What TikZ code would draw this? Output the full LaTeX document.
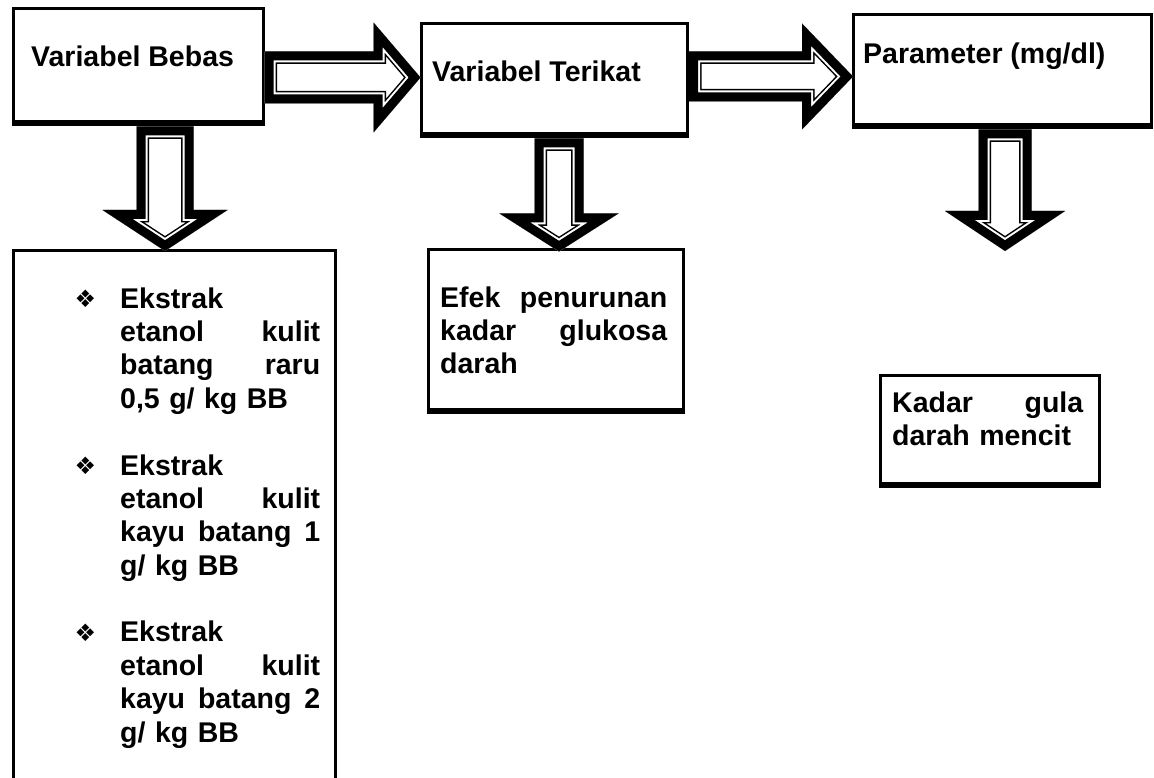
\documentclass[tikz,border=0pt]{standalone}
\usepackage{fontspec}
\setmainfont{Liberation Sans}
\newfontfamily\dingfont{DejaVu Sans}
\usetikzlibrary{positioning, calc}

% outline of a block arrow: length, shaft width, head width, head length
\newcommand{\arrowoutline}[4]{(0,#2/2) -- (#1-#4,#2/2) -- (#1-#4,#3/2) -- (#1,0) -- (#1-#4,-#3/2) -- (#1-#4,-#2/2) -- (0,-#2/2) -- cycle}
\newcommand{\itembullet}{\leavevmode\llap{\raisebox{0.5pt}{\dingfont\fontsize{24pt}{24pt}\selectfont ❖}\hspace{24pt}}}

\tikzset{
  pics/hollowarrow/.style n args={4}{code={
    \begin{scope}[line join=miter]
      \clip \arrowoutline{#1}{#2}{#3}{#4};
      \draw[line width=25pt] \arrowoutline{#1}{#2}{#3}{#4};
      \draw[white, line width=22pt] \arrowoutline{#1}{#2}{#3}{#4};
      \draw[line width=18pt] \arrowoutline{#1}{#2}{#3}{#4};
    \end{scope}
  }}
}

\begin{document}
\begin{tikzpicture}[
        x=1pt, y=1pt,
        box/.style={draw, line width=3pt, fill=white, inner sep=0pt, anchor=north west,
          path picture={\draw[line width=9pt] (path picture bounding box.south west) -- (path picture bounding box.south east);}},
        boxtext/.style={inner sep=0pt, anchor=base west, align=left, font=\fontsize{28.5pt}{33.4pt}\selectfont\bfseries}
    ]
        \useasboundingbox (0,0) rectangle (1154,-778);
        \clip (0,0) rectangle (1154,-778);

        % top row
        \node[box, minimum width=250pt, minimum height=116pt] (bebas) at (11.5,-7.5) {};
        \node[box, minimum width=266.5pt, minimum height=113pt] (terikat) at (419.5,-22.5) {};
        \node[box, minimum width=298pt, minimum height=113pt] (param) at (851.5,-13.5) {};
        \node[boxtext] (bebastext) at ([xshift=19.5pt, yshift=-59.5pt]bebas.north west) {Variabel Bebas};
        \node[boxtext] (terikattext) at ([xshift=12.5pt, yshift=-59.5pt]terikat.north west) {Variabel Terikat};
        \node[boxtext] (paramtext) at ([xshift=11.5pt, yshift=-50.5pt]param.north west) {Parameter (mg/dl)};

        % bottom row
        \node[box, minimum width=322pt, minimum height=560pt] (ekstrak) at (11.5,-249.5) {};
        \node[box, minimum width=255pt, minimum height=162pt] (efek) at (426.5,-248.5) {};
        \node[box, minimum width=219pt, minimum height=110.5pt] (kadar) at (878.5,-374) {};
        \node[boxtext, text width=200pt] (ekstraktext) at ([xshift=108.5pt, yshift=-58.5pt]ekstrak.north west) {%
            \itembullet Ekstrak\\
            etanol\hfill kulit\\
            batang\hfill raru\\
            0,5 g/ kg BB\\[33.4pt]
            \itembullet Ekstrak\\
            etanol\hfill kulit\\
            kayu\hfill batang\hfill 1\\
            g/ kg BB\\[33.4pt]
            \itembullet Ekstrak\\
            etanol\hfill kulit\\
            kayu\hfill batang\hfill 2\\
            g/ kg BB};
        \node[boxtext, text width=227pt] (efektext) at ([xshift=13.5pt, yshift=-58.5pt]efek.north west) {Efek\hfill penurunan\\ kadar\hfill glukosa\\ darah};
        \node[boxtext, text width=191pt] (kadartext) at ([xshift=13.5pt, yshift=-38pt]kadar.north west) {Kadar\hfill gula\\ darah mencit};

        % block arrows
        \path ([yshift=-10.5pt]bebas.east) pic {hollowarrow={156}{52}{110}{47}};
        \path ([yshift=4pt]terikat.east) pic {hollowarrow={164}{50}{106}{51}};
        \path ([xshift=27pt]bebas.south) pic[rotate=-90] {hollowarrow={124.5}{57}{125}{41}};
        \path ([xshift=4.75pt]terikat.south) pic[rotate=-90] {hollowarrow={113}{49}{119}{38}};
        \path ([xshift=3pt]param.south) pic[rotate=-90] {hollowarrow={121.5}{53}{120}{40}};
    \end{tikzpicture}
\end{document}
